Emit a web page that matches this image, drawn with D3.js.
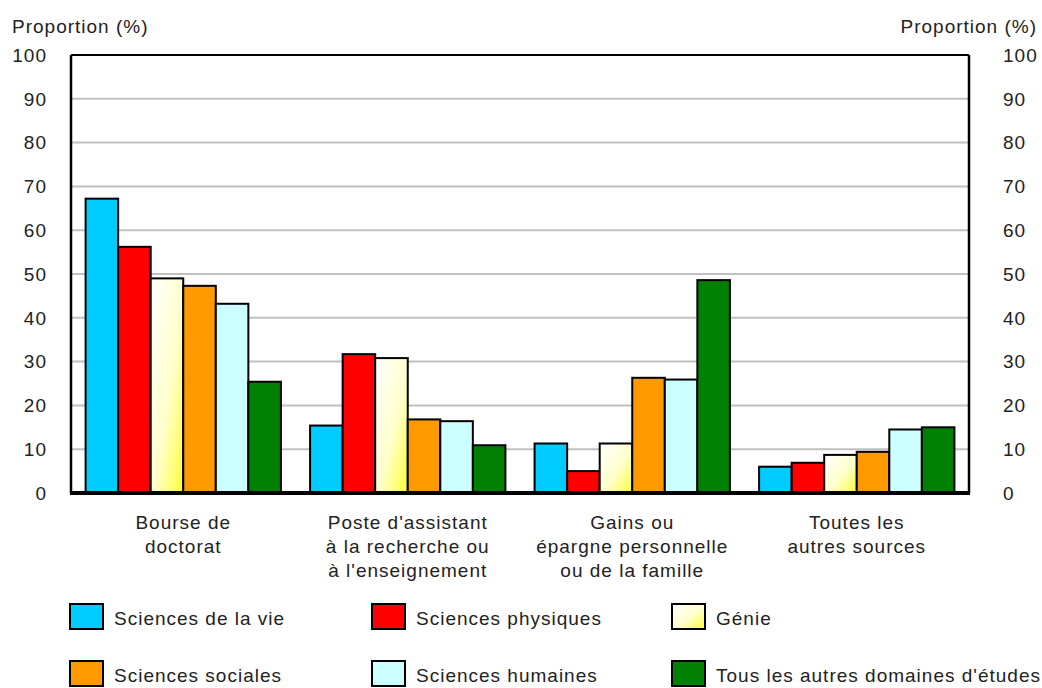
<!DOCTYPE html>
<html>
<head>
<meta charset="utf-8">
<script src="https://cdn.jsdelivr.net/npm/d3@7"></script>
<style>
body { margin: 0; background: #fff; }
text { font-family: "Liberation Sans", Arial, sans-serif; fill: #222; }
</style>
</head>
<body>
<div id="main"></div>
<script>
// data
var categories = [["Bourse de", "doctorat"],
                  ["Poste d'assistant", "à la recherche ou", "à l'enseignement"],
                  ["Gains ou", "épargne personnelle", "ou de la famille"],
                  ["Toutes les", "autres sources"]];
var series = ["Sciences de la vie", "Sciences physiques", "Génie",
              "Sciences sociales", "Sciences humaines", "Tous les autres domaines d'études"];
var viesVals = [67.2, 15.4, 11.3, 6.0];
var physVals = [56.2, 31.7, 5.0, 6.9];
var genieVals = [49.0, 30.8, 11.3, 8.7];
var socVals = [47.3, 16.8, 26.3, 9.4];
var humVals = [43.2, 16.4, 25.9, 14.5];
var autresVals = [25.4, 10.9, 48.6, 15.0];
var yTicks = [0, 10, 20, 30, 40, 50, 60, 70, 80, 90, 100];
var colors = ["#00ccff", "#ff0000", "url(#genie)", "#ff9900", "#ccffff", "#008000"];

var values = [viesVals, physVals, genieVals, socVals, humVals, autresVals];

var width = 1042, height = 688;
var margin = {top: 55, right: 73, bottom: 195, left: 71};
var fs = 19, ls = 1;

var svg = d3.select("#main").append("svg")
  .attr("width", width).attr("height", height);

var defs = svg.append("defs");
var grad = defs.append("linearGradient").attr("id", "genie")
  .attr("x1", "0").attr("y1", "0").attr("x2", "1").attr("y2", "1");
grad.append("stop").attr("offset", "0").attr("stop-color", "#ffffff");
grad.append("stop").attr("offset", "0.55").attr("stop-color", "#ffffcc");
grad.append("stop").attr("offset", "1").attr("stop-color", "#ffff33");

var x0 = d3.scaleBand().domain(d3.range(categories.length))
  .range([margin.left, width - margin.right]).paddingInner(0.13).paddingOuter(0.065);
var x1 = d3.scaleBand().domain(d3.range(series.length)).range([0, x0.bandwidth()]);
var y = d3.scaleLinear().domain([0, 100]).range([height - margin.bottom, margin.top]);

// gridlines
svg.append("g").selectAll("line").data(yTicks.filter(d => d > 0 && d < 100)).join("line")
  .attr("x1", margin.left).attr("x2", width - margin.right)
  .attr("y1", d => y(d)).attr("y2", d => y(d))
  .attr("stroke", "#c0c0c0").attr("stroke-width", 2);

// left / right tick labels
svg.append("g").selectAll("text").data(yTicks).join("text")
  .attr("x", 47).attr("y", d => y(d)).attr("dy", "0.36em")
  .attr("text-anchor", "end").attr("font-size", fs).attr("letter-spacing", ls)
  .text(d => d);
svg.append("g").selectAll("text").data(yTicks).join("text")
  .attr("x", 1003).attr("y", d => y(d)).attr("dy", "0.36em")
  .attr("text-anchor", "start").attr("font-size", fs).attr("letter-spacing", ls)
  .text(d => d);

svg.append("text").attr("x", 12).attr("y", 33).attr("font-size", fs)
  .attr("letter-spacing", ls).text("Proportion (%)");
svg.append("text").attr("x", 1037).attr("y", 33).attr("font-size", fs)
  .attr("text-anchor", "end").attr("letter-spacing", ls).text("Proportion (%)");

// bars
var groups = svg.append("g").selectAll("g").data(categories).join("g")
  .attr("transform", (d, i) => "translate(" + x0(i) + ",0)");
groups.selectAll("rect")
  .data((d, i) => values.map((v, s) => ({s: s, v: v[i]})))
  .join("rect")
  .attr("x", d => x1(d.s)).attr("width", x1.bandwidth())
  .attr("y", d => y(d.v)).attr("height", d => y(0) - y(d.v))
  .attr("fill", d => colors[d.s])
  .attr("stroke", "#000").attr("stroke-width", 2);

// frame
svg.append("line").attr("x1", margin.left).attr("x2", width - margin.right)
  .attr("y1", y(100)).attr("y2", y(100)).attr("stroke", "#000").attr("stroke-width", 2);
svg.append("line").attr("x1", margin.left).attr("x2", margin.left)
  .attr("y1", y(100)).attr("y2", y(0)).attr("stroke", "#000").attr("stroke-width", 2.5);
svg.append("line").attr("x1", width - margin.right).attr("x2", width - margin.right)
  .attr("y1", y(100)).attr("y2", y(0)).attr("stroke", "#000").attr("stroke-width", 2.5);
svg.append("line").attr("x1", margin.left - 1).attr("x2", width - margin.right + 1)
  .attr("y1", y(0)).attr("y2", y(0)).attr("stroke", "#000").attr("stroke-width", 4);

// category labels
svg.append("g").selectAll("text").data(categories).join("text")
  .attr("x", (d, i) => x0(i) + x0.bandwidth() / 2)
  .attr("y", 529).attr("text-anchor", "middle").attr("font-size", fs).attr("letter-spacing", ls)
  .each(function(d) {
    d3.select(this).selectAll("tspan").data(d).join("tspan")
      .attr("x", d3.select(this).attr("x"))
      .attr("dy", (t, j) => j === 0 ? 0 : 24)
      .text(t => t);
  });

// legend
var legX = [70, 372, 672], legY = [604, 661];
var leg = svg.append("g").selectAll("g").data(series).join("g")
  .attr("transform", (d, i) => "translate(" + legX[i % 3] + "," + legY[Math.floor(i / 3)] + ")");
leg.append("rect").attr("width", 33).attr("height", 25)
  .attr("fill", (d, i) => colors[i]).attr("stroke", "#000").attr("stroke-width", 2);
leg.append("text").attr("x", 44).attr("y", 21).attr("font-size", fs).attr("letter-spacing", ls)
  .text(d => d);
</script>
</body>
</html>
